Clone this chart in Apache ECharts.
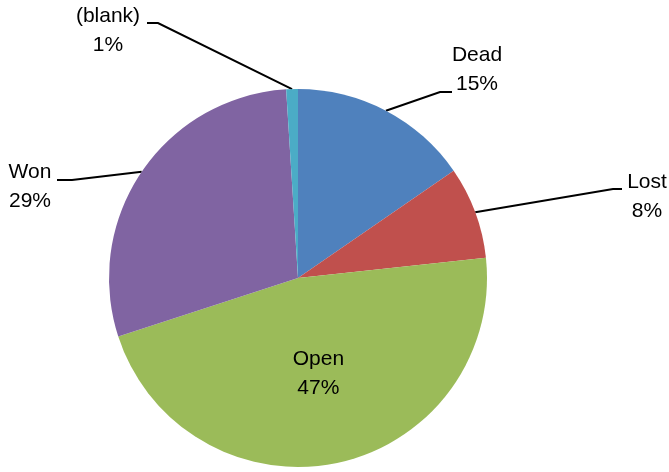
<!DOCTYPE html>
<html><head><meta charset="utf-8">
<script src="https://cdn.jsdelivr.net/npm/echarts@6/dist/echarts.min.js"></script>
<style>html,body{margin:0;padding:0;background:#fff}#c{width:669px;height:472px}</style>
</head><body><div id="c"></div>
<script>
var categories = ['Dead', 'Lost', 'Open', 'Won', '(blank)'];
var values = [15.4, 7.9, 46.7, 29.0, 1.0];
var colors = ['#4F81BD', '#C0504D', '#9BBB59', '#8064A2', '#4BACC6'];

// label placement (text centre) and leader-line elbows, in pixels
var labelPos = {
  'Dead': {x: 477, y: 70, elbow: [[440, 92], [452, 92]]},
  'Lost': {x: 647, y: 197, elbow: [[613, 189], [622, 189]]},
  'Won': {x: 30, y: 187, elbow: [[72, 180], [57, 180]]},
  '(blank)': {x: 108, y: 31, elbow: [[158, 23], [147, 23]]}
};

var total = values.reduce(function (a, b) { return a + b; }, 0);
var chart = echarts.init(document.getElementById('c'));
chart.setOption({
  animation: false,
  series: [{
    type: 'pie',
    center: [298, 278],
    radius: [0, 189],
    startAngle: 90,
    clockwise: true,
    avoidLabelOverlap: false,
    itemStyle: {borderWidth: 0},
    label: {
      show: true,
      position: 'outside',
      color: '#000',
      fontFamily: 'Liberation Sans, Arial, sans-serif',
      fontSize: 21,
      lineHeight: 29,
      align: 'center',
      formatter: function (p) {
        return p.name + '\n' + Math.round(p.value / total * 100) + '%';
      }
    },
    labelLine: {show: true, length: 20, length2: 10, lineStyle: {color: '#000', width: 2}},
    labelLayout: function (p) {
      var name = categories[p.dataIndex];
      var lp = labelPos[name];
      if (!lp) return {};
      var pts = p.labelLinePoints ? [p.labelLinePoints[0]].concat(lp.elbow) : null;
      var res = {x: lp.x, y: lp.y, align: 'center', verticalAlign: 'middle'};
      if (pts) res.labelLinePoints = pts;
      return res;
    },
    data: categories.map(function (c, i) {
      var d = {name: c, value: values[i], itemStyle: {color: colors[i]}};
      if (c === 'Open') {
        d.label = {position: 'inside'};
        d.labelLine = {show: false};
      }
      return d;
    })
  }]
});
</script></body></html>
